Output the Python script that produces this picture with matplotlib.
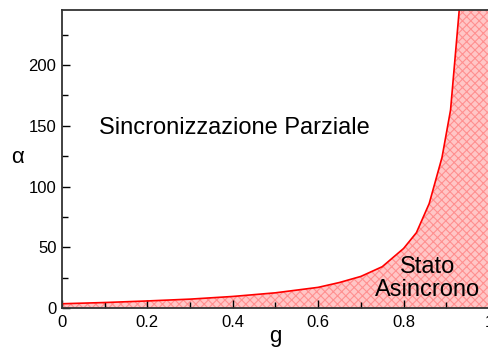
import matplotlib
matplotlib.use("Agg")
import matplotlib.pyplot as plt
import numpy as np

plt.rcParams['font.family'] = ['Liberation Sans', 'DejaVu Sans']
plt.rcParams['hatch.linewidth'] = 0.8

# boundary between partial synchronization and the asynchronous state
g = [0.0, 0.1, 0.2, 0.3, 0.4, 0.5, 0.6, 0.65, 0.7, 0.75, 0.8, 0.83, 0.86, 0.89, 0.91, 0.93, 0.95]
alpha = [3.5, 4.5, 5.8, 7.3, 9.5, 12.5, 17, 21, 26, 34, 49, 62, 86, 124, 163, 244, 400]

fig = plt.figure(figsize=(4.88, 3.49), dpi=100)
ax = fig.add_axes([0.127, 0.1175, 0.875, 0.8525])

# shaded asynchronous region, closed off at g = 1
g_fill = np.append(g, 1.0)
a_fill = np.append(alpha, alpha[-1])
ax.fill_between(g_fill, 0, a_fill, facecolor='#ffc6c6', edgecolor='#ff9090',
                hatch='xxxx', linewidth=0)
ax.plot(g, alpha, color='red', lw=1.2)

ax.set_xlim(0, 1)
ax.set_ylim(0, 245)
ax.set_xticks([0, 0.2, 0.4, 0.6, 0.8, 1.0])
ax.set_xticklabels(['0', '0.2', '0.4', '0.6', '0.8', '1'])
ax.set_xticks(np.arange(0.1, 1.0, 0.2), minor=True)
ax.set_yticks([0, 50, 100, 150, 200])
ax.set_yticks([25, 75, 125, 175, 225], minor=True)
ax.tick_params(which='both', direction='in', top=False, right=False,
               labelsize=12, width=1, color='black')
ax.tick_params(which='major', length=6)
ax.tick_params(axis='x', which='major', pad=5)
ax.tick_params(axis='y', which='major', pad=4)
ax.tick_params(which='minor', length=4)
for s in ax.spines.values():
    s.set_linewidth(1.3)
    s.set_color('#333333')

ax.set_xlabel('g', fontsize=16, labelpad=-3)
ax.set_ylabel('α', fontsize=16, rotation=0, va='center')
ax.yaxis.set_label_coords(-0.105, 0.505)

ax.text(0.404, 0.604, 'Sincronizzazione Parziale', transform=ax.transAxes,
        fontsize=17, ha='center', va='center')
ax.text(0.857, 0.100, 'Stato\nAsincrono', transform=ax.transAxes,
        fontsize=17, ha='center', va='center', linespacing=1.05)

fig.savefig('out.png', dpi=100)
